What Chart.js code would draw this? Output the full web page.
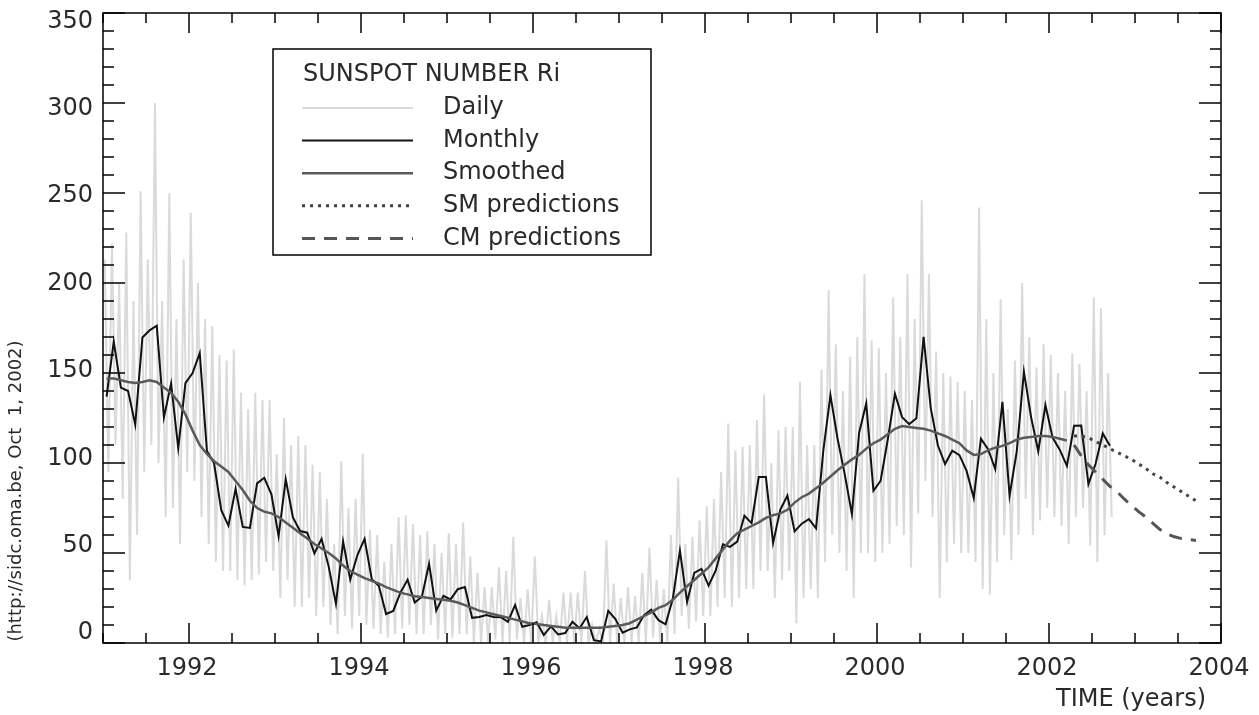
<!DOCTYPE html>
<html>
<head>
<meta charset="utf-8">
<script src="https://cdn.jsdelivr.net/npm/chart.js@4.4.0/dist/chart.umd.min.js"></script>
<style>
  body { margin: 0; background: #fff; }
  #wrap { width: 1259px; height: 715px; }
</style>
</head>
<body>
<div id="wrap"><canvas id="chart" width="1259" height="715"></canvas></div>
<script>
// sunspot number Ri, months from Jan 1991
const monthly = [
  136.9, 167.5, 141.9, 140.0, 121.3, 169.7, 173.7, 176.3, 125.3, 144.1, 108.2, 144.4,
  150.0, 161.1, 106.7, 99.8, 73.8, 65.2, 85.7, 64.5, 63.9, 88.7, 91.8, 82.6,
  59.3, 91.0, 69.8, 62.2, 61.3, 49.8, 57.9, 42.3, 21.8, 56.4, 35.2, 48.9,
  57.8, 35.5, 31.7, 16.1, 17.8, 28.0, 35.1, 22.5, 25.7, 44.0, 18.0, 26.2,
  24.2, 29.9, 31.1, 14.0, 14.5, 15.6, 14.5, 14.3, 11.8, 21.1, 9.0, 10.0,
  11.5, 4.4, 9.2, 4.8, 5.5, 11.8, 8.2, 14.4, 1.6, 0.9, 17.9, 13.3,
  5.7, 7.6, 8.7, 15.5, 18.5, 12.7, 10.4, 24.4, 51.3, 22.8, 39.0, 41.2,
  31.9, 40.3, 54.8, 53.4, 56.3, 70.7, 66.6, 92.2, 92.2, 55.5, 74.0, 81.9,
  62.0, 66.3, 68.8, 63.7, 106.4, 137.7, 113.5, 93.7, 71.5, 116.7, 133.2, 84.6,
  90.1, 112.9, 138.5, 125.5, 121.6, 124.9, 170.1, 130.5, 109.7, 99.4, 106.8, 104.4,
  95.6, 80.6, 113.5, 107.7, 96.6, 134.0, 81.8, 106.4, 150.7, 125.5, 106.5, 132.2,
  114.1, 107.4, 98.4, 120.7, 120.8, 88.3, 99.6, 116.4, 109.6
];

// 13-month smoothed, Jan 1991 .. Mar 2002
const smoothed = [
  147, 147, 146, 145, 144.5, 145, 146, 145, 142, 139, 134, 127,
  118, 110, 105, 101, 98, 95, 90, 85, 79, 75, 73, 72,
  70, 67, 64, 61, 58, 55, 52.5, 50, 47, 43, 40, 38,
  36, 34.5, 33, 31, 29.5, 28, 27, 26, 25.5, 25, 24.5, 24,
  23.5, 22.5, 21, 19.5, 18, 17, 16, 15, 14, 13, 12, 11,
  10.5, 10, 9.5, 9, 8.5, 8.5, 8.5, 8.5, 8.5, 8.5, 9, 9.5,
  10, 11, 13, 15, 17, 19.5, 21, 24, 28, 31.5, 35, 38.5,
  42, 47, 52, 57, 61, 63, 65, 67, 69.5, 71, 72, 74,
  78, 81, 83, 86, 89, 92.5, 96, 99, 102, 104.5, 108, 111,
  113, 116, 119, 120.5, 120, 119.5, 119, 118, 116.5, 115, 113, 111,
  107, 104.5, 105, 107, 108.5, 109.5, 111, 113, 114, 114.5, 115, 115,
  114.5, 113.5, 112.5
];

// predictions, Apr 2002 .. Sep 2003
const predStart = 135;
const smPred = [115, 115, 114, 112, 110, 108, 106, 104, 102, 99.5, 97, 94, 92, 89, 86.5, 84, 81.5, 79];
const cmPred = [110, 104, 99, 95, 91, 87, 84, 80, 76.5, 73, 70, 66.5, 63, 60.5, 59, 58, 57.5, 57];

// daily values: highest and lowest day of each month, Jan 1991 .. Sep 2002
const dailyHigh = [
  213, 222, 200, 228, 190, 251, 213, 300, 190, 250, 180, 213,
  239, 200, 180, 176, 160, 157, 163, 139, 130, 139, 135, 135,
  105, 125, 110, 115, 110, 99, 95, 80, 55, 101, 75, 80,
  105, 63, 60, 45, 55, 70, 71, 66, 60, 62, 55, 50,
  61, 55, 67, 48, 39, 31, 31, 42, 40, 59, 25, 30,
  48, 15, 24, 15, 28, 28, 28, 40, 10, 8, 57, 33,
  25, 31, 26, 39, 53, 35, 30, 60, 92, 55, 59, 68,
  76, 80, 95, 122, 107, 109, 110, 124, 138, 100, 118, 120,
  120, 145, 110, 110, 152, 196, 166, 140, 159, 170, 205, 168,
  164, 150, 192, 170, 205, 180, 246, 205, 162, 150, 148, 145,
  140, 135, 242, 180, 150, 191, 130, 157, 200, 170, 153, 166,
  160, 150, 140, 161, 155, 140, 192, 186, 150
];
const dailyLow = [
  95, 110, 80, 35, 60, 95, 110, 100, 70, 75, 55, 95,
  90, 70, 55, 45, 40, 40, 35, 32, 35, 38, 45, 40,
  25, 35, 20, 20, 25, 15, 20, 10, 5, 15, 8, 15,
  10, 8, 5, 3, 5, 8, 10, 5, 5, 10, 2, 5,
  3, 5, 5, 0, 0, 0, 2, 0, 0, 2, 0, 0,
  0, 0, 0, 0, 0, 0, 0, 0, 0, 0, 0, 0,
  0, 0, 0, 0, 3, 0, 0, 5, 15, 8, 12, 15,
  15, 20, 25, 20, 25, 30, 30, 40, 40, 25, 35, 40,
  11, 25, 30, 25, 45, 60, 50, 40, 25, 50, 50, 45,
  50, 55, 65, 60, 42, 72, 90, 70, 25, 45, 55, 50,
  50, 45, 30, 27, 45, 60, 46, 60, 80, 60, 68, 75,
  70, 65, 55, 70, 75, 54, 45, 60, 70
];

const xTickLabels = ["1992", "1994", "1996", "1998", "2000", "2002", "2004"];
const yTickLabels = ["0", "50", "100", "150", "200", "250", "300", "350"];
const legendTitle = "SUNSPOT NUMBER Ri";
const legendLabels = ["Daily", "Monthly", "Smoothed", "SM predictions", "CM predictions"];
const xTitle = "TIME (years)";
const yTitle = "(http://sidc.oma.be, Oct  1, 2002)";

const FONT = "'DejaVu Sans', 'Liberation Sans', sans-serif";
const monthX = (i, f) => 1991 + (i + f) / 12;

const dailyPts = [];
dailyHigh.forEach((h, i) => {
  dailyPts.push({ x: monthX(i, 0.25), y: h });
  dailyPts.push({ x: monthX(i, 0.75), y: dailyLow[i] });
});
const monthlyPts = monthly.map((v, i) => ({ x: monthX(i, 0.5), y: v }));
const smoothPts = smoothed.map((v, i) => ({ x: monthX(i, 0.5), y: v }));
const smPts = smPred.map((v, i) => ({ x: monthX(predStart + i, 0.5), y: v }));
const cmPts = cmPred.map((v, i) => ({ x: monthX(predStart + i, 0.5), y: v }));

const styles = [
  { color: "#dadada", width: 2, dash: [] },
  { color: "#111111", width: 2, dash: [] },
  { color: "#5a5a5a", width: 2.5, dash: [] },
  { color: "#444444", width: 3, dash: [3, 5] },
  { color: "#555555", width: 3, dash: [13, 9] }
];

// frame, inside ticks, labels and the boxed legend
const idlFrame = {
  id: "idlFrame",
  afterDraw(chart) {
    const { ctx, chartArea: a, scales: { x, y } } = chart;
    ctx.save();
    ctx.strokeStyle = "#000";
    ctx.lineWidth = 1.5;
    const seg = (x1, y1, x2, y2) => {
      ctx.beginPath(); ctx.moveTo(x1, y1); ctx.lineTo(x2, y2); ctx.stroke();
    };
    ctx.strokeRect(a.left, a.top, a.right - a.left, a.bottom - a.top);
    for (let v = 0; v <= 350; v += 10) {
      const py = y.getPixelForValue(v);
      const len = v % 50 === 0 ? 22 : 11;
      seg(a.left, py, a.left + len, py);
      seg(a.right, py, a.right - len, py);
    }
    for (let v = 1991; v <= 2004; v += 0.5) {
      const px = x.getPixelForValue(v);
      const len = v % 2 === 0 ? 20 : 10;
      seg(px, a.bottom, px, a.bottom - len);
      seg(px, a.top, px, a.top + len);
    }

    ctx.fillStyle = "#2a2a2a";
    ctx.font = "24px " + FONT;
    ctx.textBaseline = "middle";
    ctx.textAlign = "right";
    // labels sit a little inside the end ticks, as in the original plot
    yTickLabels.forEach(t => {
      const v = +t;
      ctx.fillText(t, 93, y.getPixelForValue(v) - 10 + 18.5 * v / 350);
    });
    ctx.textAlign = "center";
    xTickLabels.forEach(t => ctx.fillText(t, x.getPixelForValue(+t) - 2, 669));
    ctx.textAlign = "right";
    ctx.fillText(xTitle, 1206, 700);

    ctx.save();
    ctx.font = "18px " + FONT;
    ctx.translate(16, 491);
    ctx.rotate(-Math.PI / 2);
    ctx.textAlign = "center";
    ctx.fillText(yTitle, 0, 0);
    ctx.restore();

    // legend
    ctx.fillStyle = "#fff";
    ctx.fillRect(273, 49, 378, 206);
    ctx.strokeStyle = "#000";
    ctx.lineWidth = 1.5;
    ctx.strokeRect(273, 49, 378, 206);
    ctx.fillStyle = "#2a2a2a";
    ctx.textAlign = "left";
    ctx.font = "24px " + FONT;
    ctx.fillText(legendTitle, 303, 75);
    legendLabels.forEach((lab, i) => {
      const ly = 108 + i * 32.6;
      const s = styles[i];
      ctx.strokeStyle = s.color;
      ctx.lineWidth = s.width;
      ctx.setLineDash(s.dash);
      seg(302, ly, 413, ly);
      ctx.setLineDash([]);
      ctx.fillText(lab, 443, ly);
    });
    ctx.restore();
  }
};

const ds = (data, s, order) => ({
  data, borderColor: s.color, borderWidth: s.width, borderDash: s.dash,
  pointRadius: 0, tension: 0, fill: false, order
});

new Chart(document.getElementById("chart"), {
  type: "line",
  data: {
    datasets: [
      ds(dailyPts, styles[0], 5),
      ds(monthlyPts, styles[1], 3),
      ds(smoothPts, styles[2], 2),
      ds(smPts, styles[3], 1),
      ds(cmPts, styles[4], 0)
    ]
  },
  options: {
    responsive: false,
    animation: false,
    layout: { padding: { left: 103, right: 38, top: 13, bottom: 72 } },
    plugins: { legend: { display: false }, tooltip: { enabled: false } },
    scales: {
      x: { type: "linear", min: 1991, max: 2004, display: false },
      y: { type: "linear", min: 0, max: 350, display: false }
    }
  },
  plugins: [idlFrame]
});
</script>
</body>
</html>
